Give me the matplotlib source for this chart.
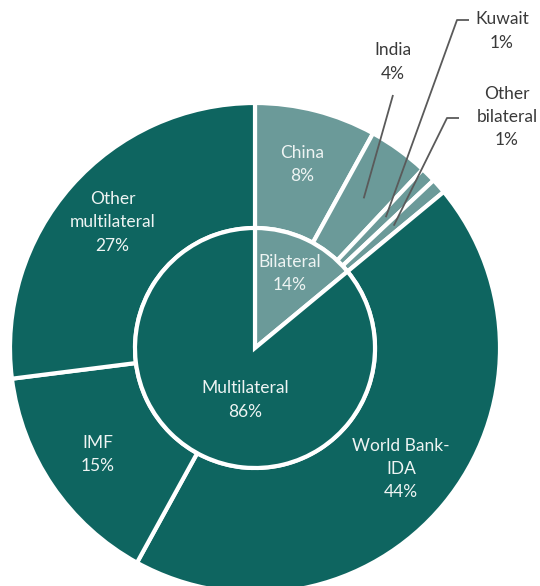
import numpy as np
import matplotlib.pyplot as plt

# ----------- Data -----------
outer_labels = ["China", "India", "Kuwait", "Other\nbilateral", "World Bank-\nIDA", "IMF", "Other\nmultilateral"]
outer_values = [8, 4, 1, 1, 44, 15, 27]
inner_labels = ["Bilateral", "Multilateral"]
inner_values = [14, 86]

dark = "#0e6560"
light = "#6b9a99"
outer_colors = [light, light, light, light, dark, dark, dark]
inner_colors = [light, dark]

plt.rcParams["font.family"] = ["Lato", "DejaVu Sans"]

# ----------- Layout (pixel coords, y up) -----------
W, H = 540, 586
cx, cy = 255, H - 348
R_out, R_in = 245, 120

fig = plt.figure(figsize=(W / 100, H / 100), dpi=100)
ax = fig.add_axes([0, 0, 1, 1])

wp = dict(edgecolor="white", linewidth=3)
outer, _ = ax.pie(outer_values, radius=R_out, center=(cx, cy), startangle=90,
                  counterclock=False, colors=outer_colors,
                  wedgeprops=dict(width=R_out - R_in, **wp), frame=True)
inner, _ = ax.pie(inner_values, radius=R_in, center=(cx, cy), startangle=90,
                  counterclock=False, colors=inner_colors, wedgeprops=wp, frame=True)
ax.set_xlim(0, W)
ax.set_ylim(0, H)
ax.set_aspect("equal")
ax.axis("off")

txt = dict(ha="center", va="center", fontsize=12.5, linespacing=1.55)
white = "#eef4f3"
grey_txt = "#3a3a3a"
grey_line = "#5a5a5a"


def mid_angle(w):
    return np.deg2rad((w.theta1 + w.theta2) / 2)


# labels inside big outer wedges
for i in [0, 4, 5, 6]:
    a = mid_angle(outer[i])
    r = 0.775 * R_out
    ax.text(cx + r * np.cos(a), cy + r * np.sin(a),
            f"{outer_labels[i]}\n{outer_values[i]}%", color=white, **txt)

# inner labels
a = mid_angle(inner[0])
ax.text(cx + 82 * np.cos(a), cy + 82 * np.sin(a),
        f"{inner_labels[0]}\n{inner_values[0]}%", color=white, **txt)
ax.text(cx - 10, cy - 52, f"{inner_labels[1]}\n{inner_values[1]}%", color=white, **txt)

# small slices with leader lines: (text pos, path points after wedge point)
callouts = {
    1: ((393, H - 62), [(393, H - 95)]),
    2: ((502, H - 31), [(457, H - 20), (469, H - 20)]),
    3: ((507, H - 117), [(447, H - 118), (459, H - 118)]),
}
for i, (tpos, path) in callouts.items():
    a = mid_angle(outer[i])
    r = 0.755 * R_out
    pts = [(cx + r * np.cos(a), cy + r * np.sin(a))] + path
    xs, ys = zip(*pts)
    ax.plot(xs, ys, color=grey_line, linewidth=1.3, solid_capstyle="butt")
    ax.text(tpos[0], tpos[1], f"{outer_labels[i]}\n{outer_values[i]}%", color=grey_txt, **txt)

fig.savefig("out.png", dpi=100)
